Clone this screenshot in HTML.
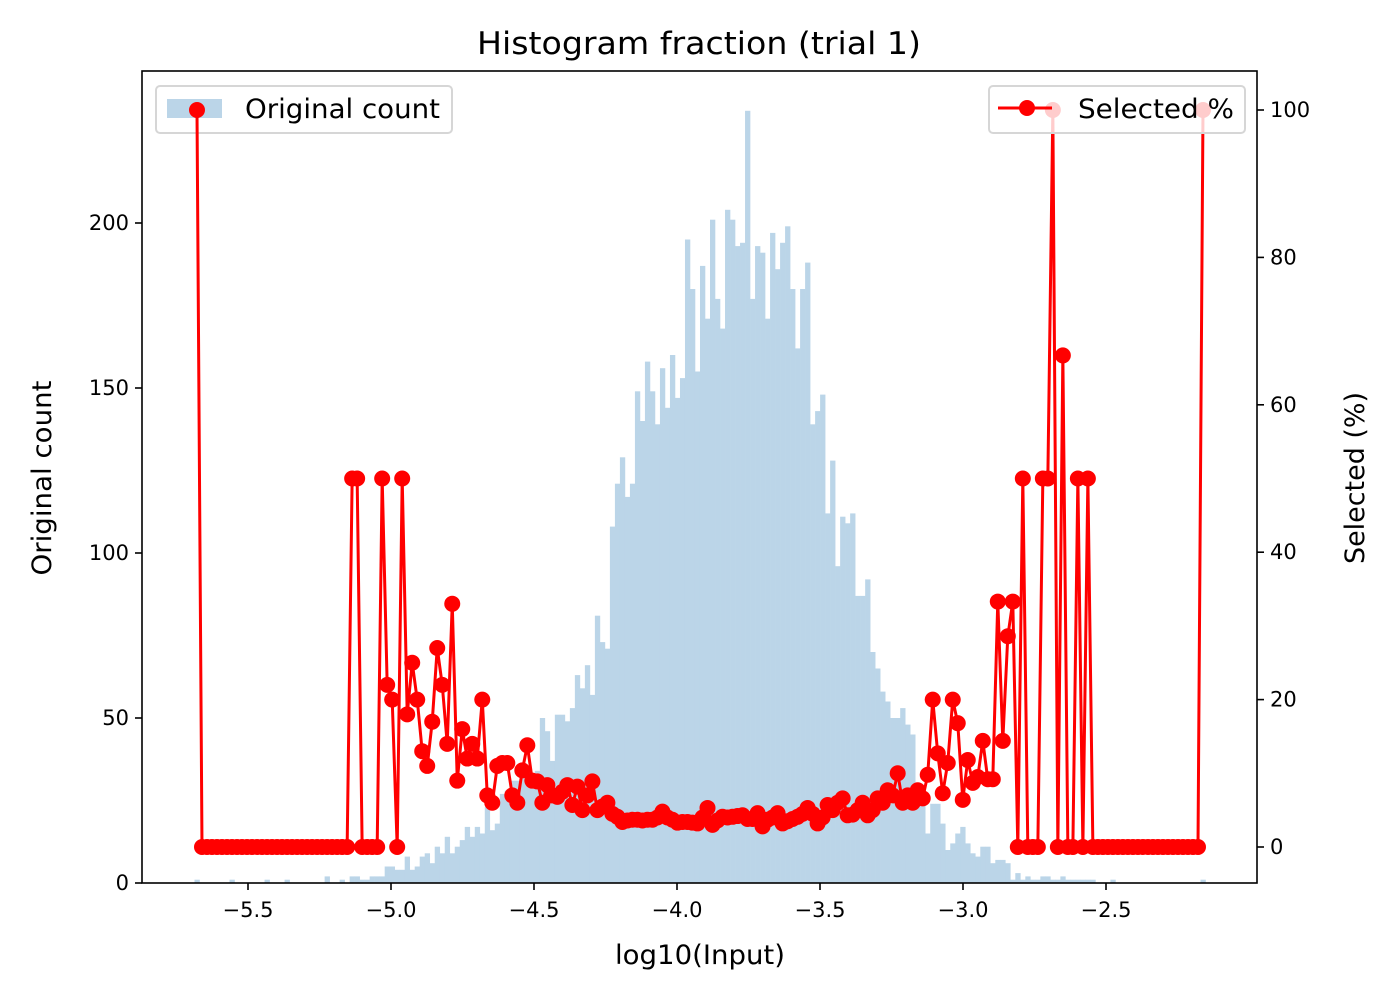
<!DOCTYPE html>
<html><head><meta charset="utf-8"><style>
body{margin:0;background:#fff}
svg text{font-family:"DejaVu Sans","Liberation Sans",sans-serif;fill:#000}
</style></head><body>
<svg id="chart" width="1400" height="1000" xmlns="http://www.w3.org/2000/svg">
<rect width="1400" height="1000" fill="#fff"/>
<g id="hist"></g>
<g id="leftLegend">
<rect x="156" y="86" width="296" height="47" rx="4" fill="#fff" fill-opacity="0.8" stroke="#d6d6d6" stroke-width="2"/>
<rect x="167" y="99" width="55" height="19" fill="#bbd5e8"/>
<text x="245" y="118" font-size="27" textLength="195" lengthAdjust="spacingAndGlyphs">Original count</text>
</g>
<g id="line"></g>
<g id="rightLegend">
<rect x="989" y="86" width="256" height="47" rx="4" fill="#fff" fill-opacity="0.8" stroke="#d6d6d6" stroke-width="2"/>
<line x1="998" y1="108" x2="1052" y2="108" stroke="#ff0000" stroke-width="3"/>
<circle cx="1027" cy="108" r="8" fill="#ff0000"/>
<text x="1078" y="118" font-size="27" textLength="156" lengthAdjust="spacingAndGlyphs">Selected %</text>
</g>
<rect x="142" y="71" width="1115" height="812" fill="none" stroke="#000" stroke-width="1.6"/>
<g id="axes"></g>
<text x="699" y="54" font-size="31" text-anchor="middle" textLength="444" lengthAdjust="spacingAndGlyphs">Histogram fraction (trial 1)</text>
<text x="700" y="964" font-size="27" text-anchor="middle" textLength="170" lengthAdjust="spacingAndGlyphs">log10(Input)</text>
<text transform="translate(51,478) rotate(-90)" font-size="27" text-anchor="middle" textLength="195" lengthAdjust="spacingAndGlyphs">Original count</text>
<text transform="translate(1364,478) rotate(-90)" font-size="27" text-anchor="middle" textLength="172" lengthAdjust="spacingAndGlyphs">Selected (%)</text>
</svg>
<script>
const binStart = -5.6871;
const binWidth = 0.0175;
const counts = [1,0,0,0,0,0,0,1,0,0,0,0,0,0,1,0,0,0,1,0,0,0,0,0,0,0,2,0,0,1,0,2,2,1,1,2,2,2,5,5,4,4,8,4,5,8,9,6,11,9,14,9,11,13,17,14,17,15,23,16,18,27,28,31,31,33,33,33,34,50,46,37,51,51,49,53,63,59,66,57,81,73,71,108,121,129,117,121,149,140,158,149,139,156,144,160,147,153,195,180,155,187,171,201,177,168,204,201,193,194,234,177,193,191,171,197,186,194,199,180,162,180,188,139,143,148,112,128,96,111,109,112,87,87,92,70,65,58,55,50,50,53,48,45,29,24,15,24,24,18,10,12,15,17,12,9,8,11,11,6,7,7,6,1,3,1,2,1,1,2,2,1,1,2,1,1,1,1,1,1,0,0,0,1,0,0,0,0,0,0,0,0,0,0,0,0,0,0,0,0,0,1];
const selected = [100,0,0,0,0,0,0,0,0,0,0,0,0,0,0,0,0,0,0,0,0,0,0,0,0,0,0,0,0,0,0,50,50,0,0,0,0,50,22,20,0,50,18,25,20,13,11,17,27,22,14,33,9,16,12,14,12,20,7,6,11,11.4,11.4,7,6,10.4,13.8,9,8.9,6,8.4,7,6.8,7.5,8.4,5.7,8.2,5,7,8.9,5,5.5,6,4.5,4.1,3.4,3.6,3.7,3.7,3.6,3.7,3.7,4,4.8,4,3.7,3.3,3.4,3.4,3.3,3.2,4,5.3,3,3.6,4.1,4,4.1,4.2,4.3,3.8,3.8,4.6,2.8,3.7,4,4.6,3.2,3.5,3.8,4.1,4.5,5.3,4.5,3.2,4,5.7,5,6,6.6,4.3,4.4,5,6,4.3,5,6.6,6,7.7,7,10,6,7,6,7.7,6.6,9.8,20,12.7,7.3,11.4,20,16.8,6.4,11.8,8.7,9.5,14.4,9.2,9.2,33.3,14.4,28.6,33.3,0,50,0,0,0,50,50,100,0,66.7,0,0,50,0,50,0,0,0,0,0,0,0,0,0,0,0,0,0,0,0,0,0,0,0,0,0,0,100];
const xTicks = [-5.5,-5.0,-4.5,-4.0,-3.5,-3.0,-2.5];
const xTickLabels = ["\u22125.5","\u22125.0","\u22124.5","\u22124.0","\u22123.5","\u22123.0","\u22122.5"];
const leftTicks = [0,50,100,150,200];
const rightTicks = [0,20,40,60,80,100];

const NS = "http://www.w3.org/2000/svg";
const X = v => 677 + (v + 4) * 286;
const YL = c => 883 - c * 3.3;
const YR = p => 847 - p * 7.37;
function mk(tag, attrs, parent){const e=document.createElementNS(NS,tag);for(const k in attrs)e.setAttribute(k,attrs[k]);parent.appendChild(e);return e;}

const hist = document.getElementById('hist');
counts.forEach((c,i)=>{
  if(c<=0) return;
  const x0 = X(binStart + i*binWidth), x1 = X(binStart + (i+1)*binWidth);
  const r = mk('rect',{x:x0,y:YL(c),width:x1-x0+0.3,height:YL(0)-YL(c),fill:'#bbd5e8'},hist);
  
  
});

const line = document.getElementById('line');
const pts = selected.map((p,i)=>[X(binStart+(i+0.5)*binWidth), YR(p)]);
const pl = mk('polyline',{points:pts.map(p=>p.join(',')).join(' '),fill:'none',stroke:'#ff0000','stroke-width':3,'stroke-linejoin':'round'},line);


pts.forEach(p=>{
  const c = mk('circle',{cx:p[0],cy:p[1],r:8,fill:'#ff0000'},line);
  
  
});

const axes = document.getElementById('axes');
xTicks.forEach((t,i)=>{
  const x = X(t);
  mk('line',{x1:x,y1:883,x2:x,y2:890,stroke:'#000','stroke-width':1.6},axes);
  const tx = mk('text',{x:x,y:917,'font-size':21,'text-anchor':'middle'},axes);
  tx.textContent = xTickLabels[i];
  
  
});
leftTicks.forEach(t=>{
  const y = YL(t);
  mk('line',{x1:135,y1:y,x2:142,y2:y,stroke:'#000','stroke-width':1.6},axes);
  const tx = mk('text',{x:129,y:y+7,'font-size':21,'text-anchor':'end'},axes);
  tx.textContent = t;
  
  
});
rightTicks.forEach(t=>{
  const y = YR(t);
  mk('line',{x1:1257,y1:y,x2:1264,y2:y,stroke:'#000','stroke-width':1.6},axes);
  const tx = mk('text',{x:1270,y:y+7,'font-size':21,'text-anchor':'start'},axes);
  tx.textContent = t;
  
  
});
</script>
</body></html>
